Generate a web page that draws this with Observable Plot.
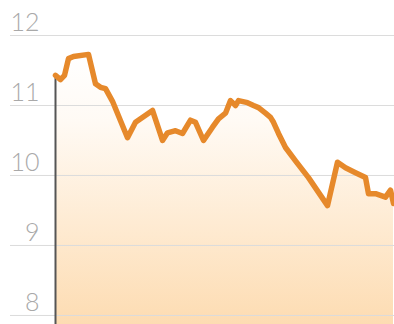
<!DOCTYPE html>
<html>
<head>
<meta charset="utf-8">
<script src="https://cdn.jsdelivr.net/npm/d3@7"></script>
<script src="https://cdn.jsdelivr.net/npm/@observablehq/plot@0.6"></script>
<style>
  html, body { margin: 0; padding: 0; background: #fff; }
  #chart svg { display: block; }
</style>
</head>
<body>
<div id="chart"></div>
<script>
const days = [0,5,9,13,18,33,40,45,50,57,72,80,97,107,112,120,127,135,140,148,157,163,170,175,180,183,192,198,203,210,215,218,223,230,240,253,272,282,290,300,310,313,320,330,335,338];
const values = [11.43,11.37,11.43,11.67,11.70,11.73,11.31,11.26,11.24,11.06,10.54,10.76,10.93,10.50,10.61,10.64,10.60,10.79,10.76,10.50,10.69,10.81,10.89,11.07,11.00,11.07,11.04,11.00,10.97,10.89,10.83,10.76,10.60,10.40,10.21,9.97,9.57,10.19,10.11,10.04,9.97,9.74,9.74,9.69,9.79,9.60];
const yTicks = [8, 9, 10, 11, 12];

const yMin = 7.871, yMax = 12.5;
const data = days.map((d, i) => ({day: d, value: values[i]}));

const chart = Plot.plot({
  width: 394,
  height: 324,
  marginTop: 0,
  marginBottom: 0,
  marginLeft: 10,
  marginRight: 0,
  style: {background: "transparent", fontFamily: "Lato, 'Open Sans', sans-serif"},
  x: {domain: [-45, 339], axis: null},
  y: {domain: [yMin, yMax], axis: null},
  marks: [
    Plot.areaY(data, {x: "day", y1: yMin, y2: "value", fill: "url(#areaGrad)"}),
    Plot.ruleY(yTicks, {stroke: "#dcdcdc", strokeWidth: 1}),
    Plot.axisY(yTicks, {
      anchor: "left", tickSize: 0, tickPadding: 0, dx: 29, dy: -4,
      lineAnchor: "bottom", textAnchor: "end", label: null,
      tickFormat: d3.format("d"),
      fontSize: 25, fontWeight: 300, fill: "#a9a9a9"
    }),
    Plot.ruleX([data[0]], {x: "day", y1: "value", y2: yMin, stroke: "#555", strokeWidth: 2}),
    Plot.line(data, {x: "day", y: "value", stroke: "#e6892b", strokeWidth: 5.5, strokeLinejoin: "round", strokeLinecap: "round"})
  ]
});

const svg = d3.select(chart);
const defs = svg.insert("defs", ":first-child");
const g = defs.append("linearGradient").attr("id", "areaGrad")
  .attr("x1", 0).attr("y1", 0).attr("x2", 0).attr("y2", 1);
g.append("stop").attr("offset", "0%").attr("stop-color", "#ffffff");
g.append("stop").attr("offset", "25%").attr("stop-color", "#fffaf4");
g.append("stop").attr("offset", "100%").attr("stop-color", "#fddcb2");

document.getElementById("chart").appendChild(chart);
</script>
</body>
</html>
